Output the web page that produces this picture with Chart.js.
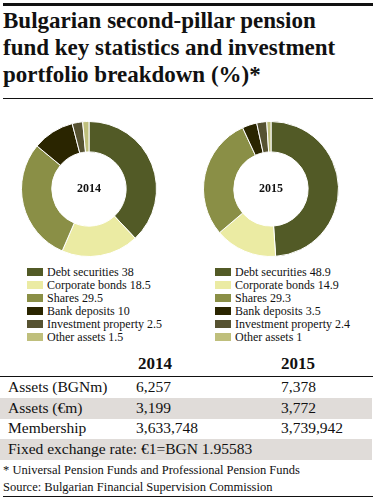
<!DOCTYPE html>
<html>
<head>
<meta charset="utf-8">
<script src="https://cdn.jsdelivr.net/npm/chart.js@4/dist/chart.umd.min.js"></script>
<style>
  body { margin: 0; width: 376px; height: 501px; background: #fff; position: relative; font-family: "Liberation Serif", serif; color: #111; overflow: hidden; }
  .rule { position: absolute; left: 3px; width: 370px; background: #111; }
  h1 { position: absolute; left: 3px; top: 7px; margin: 0; font-size: 23px; line-height: 27px; font-weight: bold; }
  .pie { position: absolute; top: 121px; width: 136px; height: 136px; }
  .legend { position: absolute; top: 266px; font-size: 12px; }
  .legend div { height: 13px; line-height: 13px; white-space: nowrap; }
  .legend span { display: inline-block; width: 16px; height: 8px; margin-right: 4px; vertical-align: 0px; }
  .band { position: absolute; left: 0; width: 372px; height: 21px; background: #e0dcd9; }
  .cell { position: absolute; font-size: 15.5px; white-space: nowrap; }
  .hd { font-weight: bold; font-size: 17px; }
  .note { position: absolute; left: 3px; font-size: 12.5px; white-space: nowrap; }
</style>
</head>
<body>
<div class="rule" style="top:3px;height:3px"></div>
<h1>Bulgarian second-pillar pension<br>fund key statistics and investment<br>portfolio breakdown (%)*</h1>
<div class="rule" style="top:98px;height:1px"></div>

<div class="pie" style="left:21px"><canvas id="pie2014"></canvas></div>
<div class="pie" style="left:203px"><canvas id="pie2015"></canvas></div>
<div class="legend" id="leg2014" style="left:27px"></div>
<div class="legend" id="leg2015" style="left:215px"></div>

<div id="table"></div>
<div class="note" style="top:463px">* Universal Pension Funds and Professional Pension Funds</div>
<div class="note" style="top:480px">Source: Bulgarian Financial Supervision Commission</div>
<div class="rule" style="top:496px;height:1px"></div>

<script>
const categories = ["Debt securities", "Corporate bonds", "Shares", "Bank deposits", "Investment property", "Other assets"];
const values2014 = [38, 18.5, 29.5, 10, 2.5, 1.5];
const values2015 = [48.9, 14.9, 29.3, 3.5, 2.4, 1];
const colors = ["#525a26", "#ebeba3", "#8a8f46", "#2a2500", "#565231", "#bfbf7c"];

const tableYears = ["2014", "2015"];
const tableRows = ["Assets (BGNm)", "Assets (\u20acm)", "Membership"];
const table2014 = ["6,257", "3,199", "3,633,748"];
const table2015 = ["7,378", "3,772", "3,739,942"];
const exchangeNote = "Fixed exchange rate: \u20ac1=BGN 1.95583";

const centerLabel = {
  id: "centerLabel",
  afterDraw(chart) {
    const ctx = chart.ctx;
    const a = chart.chartArea;
    ctx.save();
    ctx.font = "bold 12px 'Liberation Serif', serif";
    ctx.fillStyle = "#111";
    ctx.textAlign = "center";
    ctx.textBaseline = "middle";
    ctx.fillText(chart.options.plugins.centerLabel.text, (a.left + a.right) / 2, (a.top + a.bottom) / 2);
    ctx.restore();
  }
};

function drawPie(id, values, year) {
  new Chart(document.getElementById(id), {
    type: "doughnut",
    data: {
      labels: categories,
      datasets: [{ data: values, backgroundColor: colors, borderColor: "#fff", borderWidth: 1 }]
    },
    options: {
      responsive: true,
      maintainAspectRatio: false,
      animation: false,
      cutout: "55%",
      plugins: { legend: { display: false }, tooltip: { enabled: false }, centerLabel: { text: year } }
    },
    plugins: [centerLabel]
  });
}

function buildLegend(id, values) {
  let html = "";
  for (let i = 0; i < categories.length; i++) {
    html += `<div><span style="background:${colors[i]}"></span>${categories[i]} ${values[i]}</div>`;
  }
  document.getElementById(id).innerHTML = html;
}

drawPie("pie2014", values2014, "2014");
drawPie("pie2015", values2015, "2015");
buildLegend("leg2014", values2014);
buildLegend("leg2015", values2015);

// table
let html = `<div class="cell hd" style="left:138px;top:354px">${tableYears[0]}</div>
<div class="cell hd" style="left:281px;top:354px">${tableYears[1]}</div>
<div class="rule" style="left:0;width:373px;top:376px;height:1px"></div>`;
const rowTop = 377;
for (let i = 0; i < tableRows.length; i++) {
  const y = rowTop + i * 20.5;
  if (i % 2 === 1) html += `<div class="band" style="top:${y}px"></div>`;
  html += `<div class="cell" style="left:8px;top:${y + 1}px">${tableRows[i]}</div>
  <div class="cell" style="left:136px;top:${y + 1}px">${table2014[i]}</div>
  <div class="cell" style="left:281px;top:${y + 1}px">${table2015[i]}</div>`;
}
const yEx = rowTop + 3 * 20.5;
html += `<div class="band" style="top:${yEx}px"></div><div class="cell" style="left:8px;top:${yEx + 1}px">${exchangeNote}</div>`;
document.getElementById("table").innerHTML = html;
</script>
</body>
</html>
